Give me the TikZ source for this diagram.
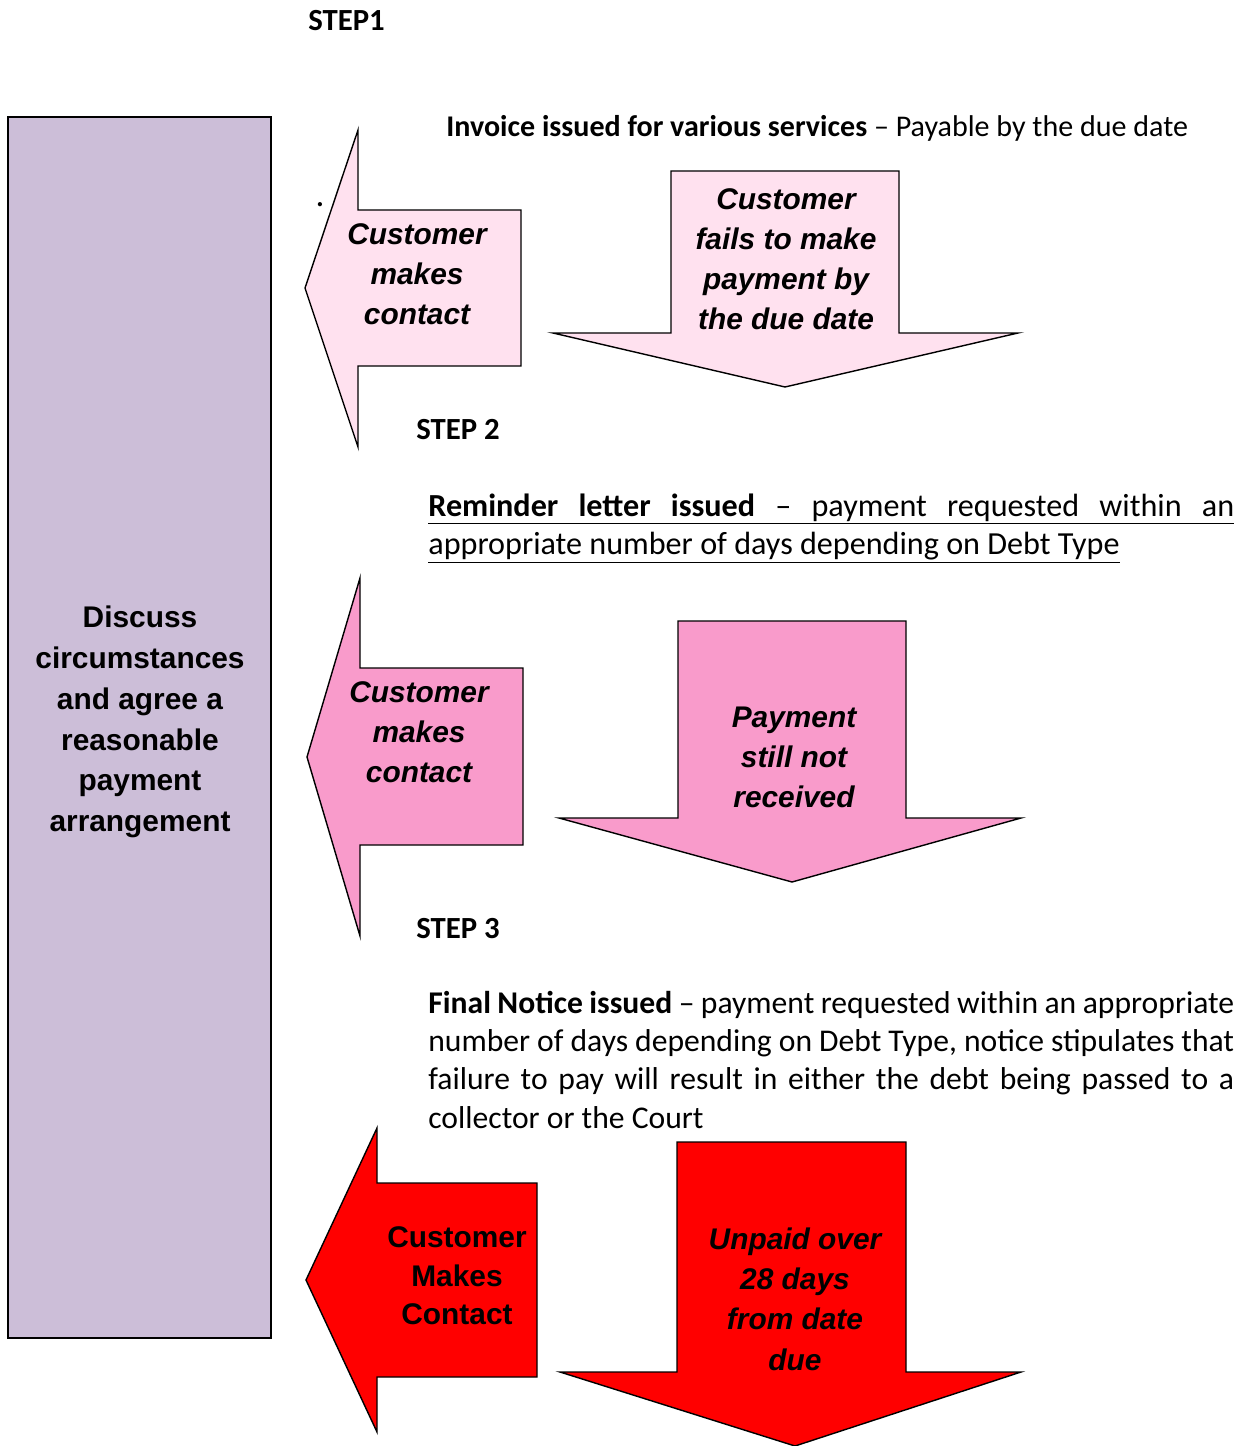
\documentclass[tikz,border=0pt]{standalone}
\usepackage{fontspec}
\setmainfont{Carlito}
\newfontfamily\arrowfont{Liberation Sans}
\definecolor{lilac}{HTML}{CCBED8}
\definecolor{palepink}{HTML}{FFE1EF}
\definecolor{midpink}{HTML}{F99BCB}
\definecolor{brightred}{HTML}{FF0000}
\begin{document}
\begin{tikzpicture}[x=0.02cm, y=-0.02cm,
  blockarrow/.style={draw=black, line width=0.8pt, line join=miter},
  arrowtext/.style={font=\arrowfont\bfseries\itshape\fontsize{17}{22.7}\selectfont, align=center, inner sep=0pt},
  redtext/.style={font=\arrowfont\bfseries\fontsize{17}{22}\selectfont, align=center, inner sep=0pt},
  para/.style={font=\fontsize{18}{21.9}\selectfont, text width=16.12cm, align=justify, inner sep=0pt, anchor=base west},
  steplabel/.style={font=\bfseries\fontsize{17.5}{21}\selectfont, inner sep=0pt, anchor=west}]
\useasboundingbox (0,0) rectangle (1246,1446);

% left column
\node[draw, line width=0.8pt, fill=lilac, minimum width=5.26cm, minimum height=24.42cm] (discuss) at (139.5,727.5) {};
\node[font=\arrowfont\bfseries\fontsize{17}{23.2}\selectfont, align=center] (discusstext) at (140,722)
  {Discuss\\circumstances\\and agree a\\reasonable\\payment\\arrangement};

% step 1
\node[steplabel] (step1) at (308,21) {STEP1};
\node[font=\fontsize{17.1}{21}\selectfont, anchor=base west, inner sep=0pt] (invoice) at (446,137)
  {\textbf{Invoice issued for various services} -- Payable by the due date};
\filldraw[blockarrow, fill=palepink] (521,210) -- (358,210) -- (358,130) -- (305,288) -- (358,447) -- (358,366) -- (521,366) -- cycle;
\filldraw[blockarrow, fill=palepink] (671,171) -- (899,171) -- (899,333) -- (1018,333) -- (785,387) -- (553,333) -- (671,333) -- cycle;
\node[arrowtext] (contact1) at (417,274) {Customer\\makes\\contact};
\node[arrowtext] (fails) at (786,259) {Customer\\fails to make\\payment by\\the due date};
\node[font=\fontsize{20}{20}\selectfont, inner sep=0pt] (dot) at (320,205) {.};

% step 2
\node[steplabel] (step2) at (416,430) {STEP 2};
\node[para, font=\fontsize{18.3}{21.9}\selectfont] (reminder) at (428,516)
  {\underline{\makebox[16.12cm][s]{\textbf{Reminder letter issued} -- payment requested within an}}\\
   \underline{appropriate number of days depending on Debt Type}};
\filldraw[blockarrow, fill=midpink] (523,668) -- (360,668) -- (360,578) -- (307,757) -- (360,936) -- (360,845) -- (523,845) -- cycle;
\filldraw[blockarrow, fill=midpink] (678,621) -- (906,621) -- (906,818) -- (1021,818) -- (792,882) -- (559,818) -- (678,818) -- cycle;
\node[arrowtext] (contact2) at (419,732) {Customer\\makes\\contact};
\node[arrowtext] (notreceived) at (794,757) {Payment\\still not\\received};

% step 3
\node[steplabel] (step3) at (416,929) {STEP 3};
\node[para] (finalnotice) at (428,1013)
  {\textbf{Final Notice issued} -- payment requested within an appropriate\linebreak
   number of days depending on Debt Type, notice stipulates that\linebreak
   failure to pay will result in either the debt being passed to a\linebreak
   collector or the Court};
\filldraw[blockarrow, fill=brightred] (537,1183) -- (377,1183) -- (377,1128) -- (306,1280) -- (377,1432) -- (377,1377) -- (537,1377) -- cycle;
\filldraw[blockarrow, fill=brightred] (677,1142) -- (906,1142) -- (906,1372) -- (1021,1372) -- (795,1446) -- (560,1372) -- (677,1372) -- cycle;
\node[redtext] (contact3) at (457,1276) {Customer\\Makes\\Contact};
\node[arrowtext, font=\arrowfont\bfseries\itshape\fontsize{17}{23}\selectfont] (unpaid) at (795,1299) {Unpaid over\\28 days\\from date\\due};
\end{tikzpicture}
\end{document}
